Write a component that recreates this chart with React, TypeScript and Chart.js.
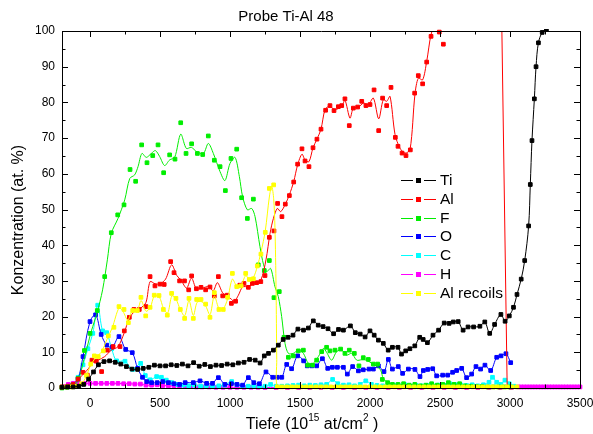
import React, { useEffect, useRef } from 'react';
import { Chart, registerables } from 'chart.js';

Chart.register(...registerables);

// ---------- data (depth in 10^15 at/cm^2, concentration in at. %) ----------
const xTickValues = [0, 500, 1000, 1500, 2000, 2500, 3000, 3500];
const yTickValues = [0, 10, 20, 30, 40, 50, 60, 70, 80, 90, 100];

const tiPoints: number[][] = [
  [-200,0.2],[-160,0.3],[-120,0.3],[-80,0.5],[-45,1.0],[-10,2.5],[25,4.5],[60,6.5],[100,7.4],[140,7.6],
  [180,7.2],[220,6.7],[260,6.0],[300,5.3],[340,5.2],[380,5.5],[420,5.8],[460,6.4],[500,6.2],[540,6.2],
  [580,6.5],[620,6.3],[660,6.7],[700,6.2],[740,7.1],[780,6.1],[820,6.6],[860,6.0],[900,6.4],[940,6.3],
  [980,6.7],[1020,6.5],[1060,7.0],[1100,7.2],[1140,8.0],[1180,7.8],[1215,7.0],[1245,9.0],[1275,9.7],[1310,10.6],
  [1345,12.0],[1380,13.6],[1415,14.2],[1450,14.8],[1485,16.5],[1525,16.2],[1560,16.8],[1595,18.8],[1630,17.6],[1665,17.2],
  [1700,16.6],[1740,15.2],[1775,16.4],[1810,16.2],[1860,17.4],[1895,15.5],[1930,15.1],[1965,14.3],[2000,16.0],[2030,14.8],
  [2060,13.4],[2095,12.5],[2130,10.6],[2160,11.4],[2200,11.4],[2225,9.5],[2255,10.4],[2285,11.0],[2320,11.8],[2355,14.2],
  [2380,13.6],[2410,12.7],[2450,14.8],[2490,16.2],[2530,18.2],[2565,18.1],[2595,18.5],[2630,18.6],[2665,16.2],[2700,17.1],
  [2740,17.1],[2785,17.3],[2820,18.5],[2855,15.3],[2890,17.8],[2935,20.6],[2965,18.7],[2995,20.2],[3025,22.6],[3050,26.2],
  [3080,30.5],[3105,35.7],[3133,45.4],[3145,57.0],[3157,69.3],[3174,81.0],[3186,90.0],[3203,96.7],[3230,99.6],[3260,100.5],[3290,102]
];

const alPoints: number[][] = [
  [-200,0.3],[-160,0.5],[-120,1.0],[-85,2.5],[-50,4.4],[-19,3.6],[14,7.8],[45,7.5],[83,4.6],[124,10.6],
  [165,11.6],[214,11.6],[245,16.0],[281,19.8],[314,22.0],[352,22.0],[400,22.8],[429,31.2],[464,28.6],[500,29.1],
  [530,29.0],[576,35.4],[600,32.3],[640,30.0],[675,30.0],[705,27.5],[726,31.4],[760,27.8],[793,28.2],[826,27.5],
  [857,28.3],[888,25.8],[917,31.2],[948,25.8],[980,26.0],[1010,23.7],[1040,24.3],[1070,28.8],[1100,29.3],[1131,28.2],
  [1160,29.3],[1190,29.5],[1220,29.8],[1250,31.5],[1281,42.2],[1314,44.0],[1340,51.7],[1371,48.0],[1395,51.5],[1424,53.9],
  [1455,57.7],[1483,62.7],[1514,67.0],[1536,63.6],[1564,62.0],[1593,67.3],[1621,69.7],[1650,72.5],[1683,77.8],[1714,79.1],
  [1743,77.7],[1774,78.8],[1798,79.1],[1821,81.0],[1852,73.5],[1881,78.4],[1912,78.7],[1941,80.3],[1971,79.1],[2000,79.4],
  [2029,83.5],[2062,72.1],[2090,81.2],[2119,79.1],[2150,84.2],[2181,70.2],[2200,67.7],[2229,65.8],[2257,65.1],[2288,66.7],
  [2319,82.6],[2345,87.5],[2376,85.2],[2405,91.3],[2436,98.5],[2466,102],[2495,99.7],[2524,96.3],[2555,104]
];
// fitted Al curve as drawn in the figure
const alCurve: number[][] = [
  [-200,0.2],[-150,0.6],[-110,1.5],[-75,2.8],[-40,4.2],[-10,5.5],[20,7.2],[57,7.8],[105,8.8],[152,10.6],
  [200,11.6],[245,15.5],[280,19.5],[320,21.5],[360,22.3],[400,24.0],[429,29.8],[465,29.2],[500,29.2],[540,30.5],
  [583,34.5],[620,31.5],[650,30.2],[690,28.0],[725,30.8],[760,27.8],[800,28.0],[850,28.4],[880,27.2],[910,29.5],
  [950,26.5],[990,25.6],[1030,24.3],[1060,26.0],[1090,28.3],[1130,28.4],[1180,29.5],[1220,30.2],[1257,35.9],[1286,43.3],
  [1310,47.5],[1338,50.3],[1362,49.4],[1393,51.3],[1424,54.1],[1455,57.8],[1483,62.5],[1514,65.5],[1536,63.9],[1564,63.4],
  [1593,67.3],[1621,69.7],[1650,72.5],[1679,78.0],[1710,78.9],[1750,78.0],[1798,78.9],[1821,80.6],[1857,75.6],[1881,78.4],
  [1917,78.6],[1952,79.8],[1988,79.4],[2024,81.2],[2062,75.4],[2095,80.8],[2119,80.3],[2143,81.7],[2179,71.0],[2214,67.2],
  [2250,65.8],[2286,66.8],[2321,82.2],[2345,86.8],[2376,86.3],[2405,91.5],[2436,99.0],[2466,102],[2500,103],[2555,104]
];
// off-scale Al values beyond 2555 and the drop back to zero
const alTailPoints: number[][] = [[2555,104],[2600,1000],[2980,0]];

const fPoints: number[][] = [
  [-200,0.0],[-165,0.2],[-125,0.7],[-85,2.7],[-40,10.5],[0,15.3],[52,21.7],[105,31.2],[152,43.5],[198,48.5],
  [243,51.3],[286,61.2],[326,57.9],[369,68.1],[407,63.1],[448,65.1],[486,68.1],[526,60.3],[569,65.3],[607,64.1],
  [648,74.3],[686,65.7],[726,68.4],[767,65.7],[805,65.4],[845,70.6],[888,63.8],[929,62.0],[967,55.3],[1007,64.3],
  [1048,66.9],[1083,53.3],[1124,47.5],[1167,52.9],[1202,34.5],[1245,32.9],[1281,35.7],[1314,25.3],[1352,27.0],[1386,14.2],
  [1417,8.6],[1452,9.0],[1488,10.4],[1524,10.6],[1555,6.4],[1590,6.4],[1619,7.8],[1655,10.2],[1690,11.4],[1714,10.4],
  [1750,10.6],[1790,10.9],[1821,9.7],[1852,10.6],[1888,9.7],[1921,6.2],[1952,8.5],[1988,8.0],[2024,6.7],[2055,6.7],
  [2088,2.4],[2126,1.5],[2160,1.0],[2200,1.0],[2240,1.2],[2280,0.8],[2320,1.0],[2360,0.6],[2400,0.8],[2440,1.2],
  [2480,0.8],[2520,1.0],[2560,1.5],[2600,1.0],[2640,1.2],[2680,0.6],[2720,0.5],[2760,0.4],[2800,0.4],[2840,0.3],
  [2880,0.3],[2920,0.3],[2960,0.3],[3000,0.3]
];
// fitted F curve as drawn in the figure
const fCurve: number[][] = [
  [-200,0.0],[-150,0.2],[-110,0.8],[-80,2.5],[-50,7.0],[-20,11.5],[10,16.0],[50,21.0],[90,27.5],[124,35.9],
  [152,43.3],[200,47.5],[248,52.7],[284,58.7],[319,59.7],[343,62.0],[371,65.7],[402,64.6],[438,65.7],[467,66.5],
  [498,64.8],[533,62.3],[569,63.9],[605,64.6],[648,71.1],[688,67.1],[724,67.4],[762,66.2],[810,65.7],[845,68.5],
  [881,65.7],[929,60.6],[964,58.1],[1000,62.9],[1036,64.6],[1067,59.2],[1090,53.6],[1124,49.9],[1155,50.3],[1179,48.0],
  [1214,39.6],[1240,34.5],[1262,32.6],[1290,33.5],[1321,28.4],[1345,25.6],[1369,20.0],[1393,12.5],[1417,9.7],[1452,9.7],
  [1488,10.6],[1524,9.7],[1560,6.9],[1595,6.9],[1631,8.8],[1667,11.1],[1690,10.0],[1726,7.8],[1762,10.2],[1798,10.6],
  [1833,9.2],[1869,9.7],[1905,7.8],[1940,7.9],[1976,7.8],[2012,6.9],[2045,6.2],[2076,5.0],[2095,2.7],[2131,1.4],
  [2180,1.0],[2240,1.0],[2300,0.9],[2360,0.8],[2420,0.9],[2480,0.9],[2540,1.1],[2600,1.1],[2660,0.8],[2720,0.5],
  [2800,0.4],[2880,0.3],[3000,0.3]
];

const oPoints: number[][] = [
  [-200,0.3],[-160,0.3],[-120,0.8],[-85,2.5],[-50,8.8],[0,18.6],[40,20.5],[80,15.0],[120,12.0],[160,11.5],
  [207,14.4],[255,10.8],[302,9.9],[340,5.5],[375,3.0],[405,1.8],[440,1.5],[480,1.5],[520,1.8],[560,1.5],
  [600,1.2],[640,1.0],[680,1.5],[738,1.5],[786,2.0],[833,1.3],[875,1.3],[917,2.9],[964,1.0],[1010,1.2],
  [1050,1.0],[1090,0.8],[1131,2.9],[1170,1.5],[1210,1.2],[1257,4.5],[1305,3.0],[1338,3.0],[1370,3.0],[1405,6.6],
  [1440,5.4],[1483,9.0],[1526,7.6],[1552,6.2],[1585,6.2],[1619,6.2],[1660,8.2],[1698,5.5],[1731,5.8],[1767,5.8],
  [1810,5.8],[1838,3.9],[1876,6.0],[1917,4.8],[1952,5.1],[1993,5.3],[2024,5.3],[2060,6.2],[2100,4.6],[2131,8.0],
  [2160,5.3],[2202,6.0],[2233,4.1],[2274,5.3],[2321,5.2],[2357,3.2],[2381,4.9],[2412,5.2],[2448,5.4],[2476,3.4],
  [2519,3.6],[2555,3.6],[2590,4.4],[2619,4.9],[2655,5.5],[2690,2.9],[2726,3.9],[2757,6.0],[2790,5.3],[2821,6.4],
  [2862,4.9],[2905,8.6],[2936,9.0],[2971,9.6],[3005,7.1]
];

const cPoints: number[][] = [
  [-200,0.2],[-160,0.4],[-120,1.0],[-85,3.0],[-50,6.5],[-15,11.0],[20,15.3],[55,23.2],[90,16.0],[119,15.5],
  [155,11.0],[190,7.6],[250,7.5],[305,5.2],[362,6.9],[395,3.5],[430,2.3],[476,3.2],[510,3.0],[545,2.2],
  [585,1.5],[625,1.0],[665,0.8],[705,0.6],[745,0.8],[790,0.5],[830,0.6],[875,0.5],[920,0.6],[960,0.8],
  [1012,1.8],[1050,0.9],[1090,0.6],[1130,0.5],[1170,0.6],[1210,0.5],[1250,0.5],[1290,1.0],[1330,0.5],[1370,0.5],
  [1410,0.6],[1450,0.7],[1490,0.8],[1530,0.6],[1570,0.8],[1610,0.7],[1650,0.9],[1690,1.0],[1733,2.4],[1770,1.2],
  [1810,0.8],[1850,0.9],[1890,0.6],[1930,1.0],[1970,2.0],[2010,1.0],[2050,0.7],[2090,0.6],[2130,1.0],[2170,0.8],
  [2210,0.6],[2250,0.9],[2290,0.5],[2330,0.7],[2370,0.6],[2410,0.7],[2450,0.6],[2490,0.8],[2530,0.7],[2570,1.2],
  [2610,0.9],[2650,0.8],[2690,0.7],[2730,0.9],[2770,0.6],[2810,0.9],[2850,1.6],[2875,3.0],[2905,1.6],[2935,1.0],
  [2964,2.2],[2995,1.2],[3030,0.5]
];

const hPoints: number[][] = [
  [-190,0.4],[-155,1.0],[-120,1.3],[-80,1.3],[-40,1.3],[0,1.3],[40,1.3],[80,1.3],[120,1.3],[160,1.3],
  [200,1.3],[240,1.2],[280,1.2],[320,1.1],[360,1.1],[400,0.8],[440,0.8],[480,0.9],[520,0.7],[560,0.6],
  [600,0.6],[640,0.5],[680,0.4],[720,0.4],[760,0.3],[800,0.3],[850,0.3],[900,0.2],[950,0.2],[1000,0.2],
  [1050,0.2],[1100,0.2],[1150,0.2],[1200,0.2],[1250,0.15],[1330,0.1],[1410,0.1],[1490,0.1],[1570,0.1],[1650,0.1],
  [1730,0.1],[1810,0.1],[1890,0.1],[1970,0.1],[2050,0.1],[2130,0.1],[2210,0.1],[2290,0.1],[2370,0.1],[2450,0.1],
  [2530,0.1],[2610,0.1],[2690,0.1],[2770,0.1],[2850,0.1],[2930,0.1],[3010,0.1],[3060,0.3],[3080,0.3],[3100,0.3],
  [3120,0.3],[3140,0.3],[3160,0.3],[3180,0.3],[3200,0.3],[3220,0.3],[3240,0.3],[3260,0.3],[3280,0.3],[3300,0.3],
  [3320,0.3],[3340,0.3],[3360,0.3],[3380,0.3],[3400,0.3],[3420,0.3],[3440,0.3],[3460,0.3],[3480,0.3],[3500,0.3]
];

const alRecoilPoints: number[][] = [
  [-200,0.3],[-165,0.3],[-130,0.3],[-95,0.5],[-60,1.2],[-25,3.5],[5,6.7],[31,9.0],[59,8.8],[95,10.4],
  [131,14.6],[171,17.0],[207,22.8],[243,22.0],[274,18.3],[305,21.7],[338,21.7],[364,25.4],[398,20.2],[429,22.6],
  [459,26.0],[493,25.9],[524,22.0],[552,20.4],[583,26.5],[614,25.1],[645,22.0],[676,19.5],[707,25.1],[738,19.5],
  [762,24.8],[793,24.8],[826,23.5],[857,19.8],[888,26.7],[921,22.0],[952,22.0],[983,25.4],[1017,32.1],[1048,28.4],
  [1079,28.6],[1112,32.1],[1138,30.4],[1167,30.6],[1195,34.2],[1221,37.5],[1252,43.6],[1281,55.9],[1312,56.9],[1338,0.3],
  [1370,0.3],[1405,0.3],[1440,0.3],[1475,0.3],[1510,0.3],[1545,0.3],[1580,0.3],[1615,0.3],[1650,0.3],[1685,0.3],
  [1720,0.3],[1755,0.3],[1790,0.3],[1825,0.3],[1860,0.3],[1895,0.3],[1930,0.3],[1965,0.3],[2000,0.3],[2035,0.3],
  [2070,0.3],[2105,0.3],[2140,0.3],[2175,0.3],[2210,0.3],[2245,0.3],[2280,0.3],[2315,0.3],[2350,0.3],[2385,0.3],
  [2420,0.3],[2455,0.3],[2490,0.3],[2525,0.3],[2560,0.3],[2595,0.3],[2630,0.3],[2665,0.3],[2700,0.3],[2735,0.3],
  [2770,0.3],[2805,0.3],[2840,0.3],[2875,0.3],[2910,0.3],[2945,0.3],[2980,0.3],[3015,0.3],[3050,0.3]
];
// fitted Al-recoil curve as drawn in the figure
const alRecoilCurve: number[][] = [
  [-200,0.3],[-150,0.3],[-100,0.5],[-60,1.2],[-30,3.0],[0,6.0],[40,8.5],[80,10.0],[120,13.5],[160,17.0],
  [207,22.4],[235,21.5],[270,19.0],[300,21.5],[340,22.0],[365,24.5],[400,21.5],[430,22.5],[460,25.8],[495,25.5],
  [525,22.3],[555,21.0],[585,25.8],[615,24.8],[645,22.0],[676,20.2],[707,24.5],[738,20.3],[765,24.0],[795,24.2],
  [826,23.0],[857,20.5],[888,25.8],[921,22.3],[952,22.2],[983,25.0],[1017,30.5],[1048,28.6],[1079,28.8],[1112,31.5],
  [1138,30.5],[1167,31.0],[1195,34.0],[1221,38.0],[1252,44.0],[1281,53.5],[1298,56.5],[1312,53.0],[1321,45.0],[1329,28.0],
  [1334,8.0],[1338,0.3],[1400,0.3],[1600,0.3],[1800,0.3],[2000,0.3],[2200,0.3],[2400,0.3],[2600,0.3],[2800,0.3],
  [3050,0.3]
];

const seriesLabels = ['Ti', 'Al', 'F', 'O', 'C', 'H', 'Al recoils'];
const seriesColors = ['#000000', '#ff0000', '#00ee00', '#0000ff', '#00ffff', '#ff00ff', '#ffff00'];

const FONT = "'Liberation Sans', Arial, Helvetica, sans-serif";

const toXY = (pts: number[][]) => pts.map(([x, y]) => ({ x, y }));

function series(label: string, pts: number[][], color: string, showLine: boolean) {
  return {
    label,
    data: toXY(pts),
    borderColor: color,
    backgroundColor: color,
    borderWidth: 1,
    showLine,
    pointStyle: 'rect',
    pointRadius: 2.6,
    pointBorderWidth: 1,
    pointBackgroundColor: color,
    pointBorderColor: color,
    tension: 0.35,
    fill: false,
    clip: { left: 5, right: 5, top: 2, bottom: 5 },
  };
}

function curve(label: string, pts: number[][], color: string, tension: number) {
  return {
    label,
    data: toXY(pts),
    borderColor: color,
    borderWidth: 1,
    pointRadius: 0,
    tension,
    fill: false,
    clip: 0,
  };
}

const decorPlugin = {
  id: 'decor',
  afterDraw(chart: any) {
    const ctx = chart.ctx as CanvasRenderingContext2D;
    const { left, right, top, bottom } = chart.chartArea;
    const xs = chart.scales.x;
    const ys = chart.scales.y;
    ctx.save();
    // frame
    ctx.strokeStyle = '#000';
    ctx.lineWidth = 1;
    ctx.beginPath();
    ctx.rect(Math.round(left) + 0.5, Math.round(top) + 0.5, Math.round(right - left), Math.round(bottom - top));
    ctx.stroke();
    // ticks (inward, mirrored)
    ctx.beginPath();
    for (let i = 0; i < xTickValues.length; i++) {
      const v = xTickValues[i];
      const px = Math.round(xs.getPixelForValue(v)) + 0.5;
      ctx.moveTo(px, bottom); ctx.lineTo(px, bottom - 6);
      ctx.moveTo(px, top); ctx.lineTo(px, top + 6);
      const mv = v + 250;
      if (mv < 3500) {
        const mp = Math.round(xs.getPixelForValue(mv)) + 0.5;
        ctx.moveTo(mp, bottom); ctx.lineTo(mp, bottom - 3.5);
        ctx.moveTo(mp, top); ctx.lineTo(mp, top + 3.5);
      }
    }
    for (let i = 0; i < yTickValues.length; i++) {
      const v = yTickValues[i];
      const py = Math.round(ys.getPixelForValue(v)) + 0.5;
      ctx.moveTo(left, py); ctx.lineTo(left + 6, py);
      ctx.moveTo(right, py); ctx.lineTo(right - 6, py);
      const mv = v + 5;
      if (mv < 100) {
        const mp = Math.round(ys.getPixelForValue(mv)) + 0.5;
        ctx.moveTo(left, mp); ctx.lineTo(left + 3.5, mp);
        ctx.moveTo(right, mp); ctx.lineTo(right - 3.5, mp);
      }
    }
    ctx.stroke();

    // title
    ctx.fillStyle = '#000';
    ctx.font = `15px ${FONT}`;
    ctx.textAlign = 'center';
    ctx.textBaseline = 'middle';
    ctx.fillText('Probe Ti-Al 48', 286, 17);

    // y axis title
    ctx.save();
    ctx.translate(22.5, 220);
    ctx.rotate(-Math.PI / 2);
    ctx.font = `16px ${FONT}`;
    ctx.textAlign = 'center';
    ctx.textBaseline = 'alphabetic';
    ctx.fillText('Konzentration (at. %)', 0, 0);
    ctx.restore();

    // x axis title with superscripts
    const parts = [
      { t: 'Tiefe (10', s: 16, dy: 0 },
      { t: '15', s: 10, dy: -8 },
      { t: ' at/cm', s: 16, dy: 0 },
      { t: '2', s: 10, dy: -8 },
      { t: ' )', s: 16, dy: 0 },
    ];
    ctx.textAlign = 'left';
    ctx.textBaseline = 'alphabetic';
    let total = 0;
    for (const p of parts) { ctx.font = `${p.s}px ${FONT}`; total += ctx.measureText(p.t).width; }
    let cx = 312 - total / 2;
    for (const p of parts) {
      ctx.font = `${p.s}px ${FONT}`;
      ctx.fillText(p.t, cx, 429 + p.dy);
      cx += ctx.measureText(p.t).width;
    }

    // legend
    ctx.font = `15.5px ${FONT}`;
    ctx.textBaseline = 'middle';
    for (let i = 0; i < seriesLabels.length; i++) {
      const y = Math.round(180 + i * 18.8) + 0.5;
      ctx.strokeStyle = seriesColors[i];
      ctx.fillStyle = seriesColors[i];
      ctx.lineWidth = 1;
      ctx.beginPath();
      ctx.moveTo(401, y); ctx.lineTo(413, y);
      ctx.moveTo(424, y); ctx.lineTo(436, y);
      ctx.stroke();
      ctx.fillRect(416, y - 2.5, 5, 5);
      ctx.fillStyle = '#000';
      ctx.fillText(seriesLabels[i], 440, y + 0.5);
    }
    ctx.restore();
  },
};

export default function App() {
  const ref = useRef<HTMLCanvasElement>(null);
  useEffect(() => {
    document.body.style.margin = '0';
    Chart.defaults.font.family = FONT;
    Chart.defaults.color = '#000';
    const datasets: any[] = [
      series('Ti', tiPoints, seriesColors[0], true),
      series('Al recoils', alRecoilPoints, seriesColors[6], false),
      curve('Al recoils fit', alRecoilCurve, seriesColors[6], 0.3),
      series('Al', alPoints, seriesColors[1], false),
      curve('Al fit', alCurve, seriesColors[1], 0.3),
      curve('Al off-scale', alTailPoints, seriesColors[1], 0),
      series('F', fPoints, seriesColors[2], false),
      curve('F fit', fCurve, seriesColors[2], 0.3),
      series('O', oPoints, seriesColors[3], true),
      series('C', cPoints, seriesColors[4], true),
      series('H', hPoints, seriesColors[5], true),
    ];
    const chart = new Chart(ref.current as HTMLCanvasElement, {
      type: 'line',
      data: { datasets },
      plugins: [decorPlugin],
      options: {
        responsive: false,
        animation: false,
        devicePixelRatio: 1,
        events: [],
        layout: { padding: { left: 0, right: 13, top: 31, bottom: 0 } },
        plugins: {
          legend: { display: false },
          title: { display: false },
          tooltip: { enabled: false },
        },
        scales: {
          x: {
            type: 'linear',
            min: -200,
            max: 3500,
            grid: { display: false, drawTicks: false },
            border: { display: false },
            ticks: {
              font: { size: 12 }, color: '#000', padding: 8, maxRotation: 0, autoSkip: false,
              callback: (v: any) => String(v),
            },
            afterBuildTicks: (s: any) => { s.ticks = xTickValues.map((v) => ({ value: v })); },
            afterFit: (s: any) => { s.height = 46; s.paddingLeft = 0; s.paddingRight = 0; },
          },
          y: {
            type: 'linear',
            min: 0,
            max: 100,
            grid: { display: false, drawTicks: false },
            border: { display: false },
            ticks: { font: { size: 12 }, color: '#000', padding: 7, callback: (v: any) => String(v) },
            afterBuildTicks: (s: any) => { s.ticks = yTickValues.map((v) => ({ value: v })); },
            afterFit: (s: any) => { s.width = 62; s.paddingTop = 0; s.paddingBottom = 0; },
          },
        },
      } as any,
    });
    return () => chart.destroy();
  }, []);
  return (
    <div style={{ width: 593, height: 434 }}>
      <canvas ref={ref} width={593} height={434} style={{ display: 'block' }} />
    </div>
  );
}
